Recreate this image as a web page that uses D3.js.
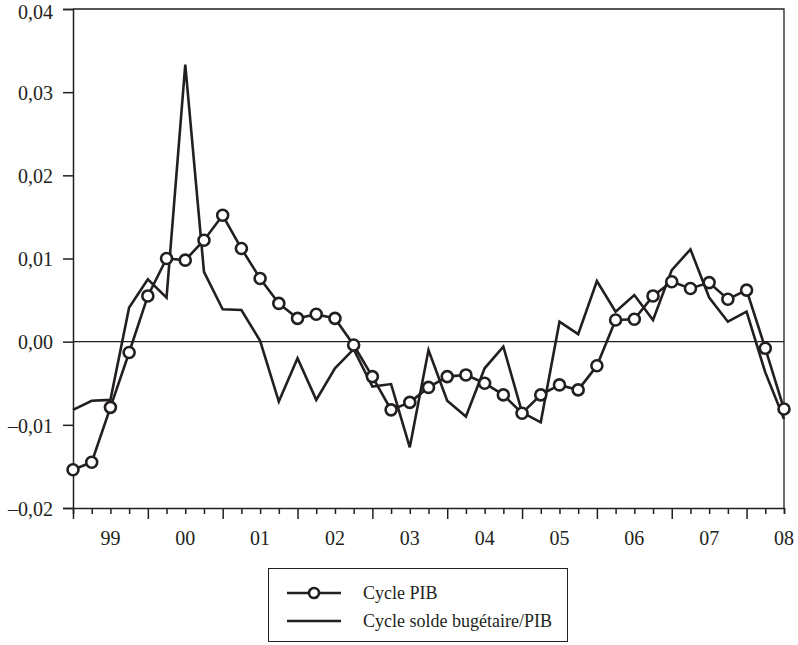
<!DOCTYPE html>
<html>
<head>
<meta charset="utf-8">
<script src="https://cdn.jsdelivr.net/npm/d3@7"></script>
<style>
  html, body { margin: 0; padding: 0; background: #fff; }
  svg text { font-family: "Liberation Serif", "Times New Roman", serif; fill: #231f20; }
</style>
</head>
<body>
<svg id="chart" width="798" height="645"></svg>
<script>
// ----- data (quarterly) -----
const yearLabels = ['99', '00', '01', '02', '03', '04', '05', '06', '07', '08'];

// cycle PIB (circles)
const cyclePIB = [
  -0.0154, -0.0145, -0.0079, -0.0013,
   0.0055,  0.0100,  0.0098,  0.0122,
   0.0152,  0.0112,  0.0076,  0.0046,
   0.0028,  0.0033,  0.0028, -0.0004,
  -0.0042, -0.0082, -0.0073, -0.0055,
  -0.0042, -0.0040, -0.0050, -0.0064,
  -0.0086, -0.0064, -0.0052, -0.0058,
  -0.0029,  0.0026,  0.0027,  0.0055,
   0.0072,  0.0064,  0.0071,  0.0051,
   0.0062, -0.0008, -0.0081
];

// cycle solde budgétaire / PIB (plain line)
const cycleSolde = [
  -0.0082, -0.0071, -0.0070,  0.0041,
   0.0075,  0.0053,  0.0333,  0.0084,
   0.0039,  0.0038,  0.0001, -0.0072,
  -0.0020, -0.0070, -0.0032, -0.0009,
  -0.0054, -0.0051, -0.0127, -0.0010,
  -0.0071, -0.0090, -0.0032, -0.0006,
  -0.0085, -0.0097,  0.0024,  0.0009,
   0.0073,  0.0036,  0.0056,  0.0026,
   0.0086,  0.0111,  0.0053,  0.0024,
   0.0036, -0.0037, -0.0093
];

const yTicks = [-0.02, -0.01, 0, 0.01, 0.02, 0.03, 0.04];

const legendItems = [
  { label: 'Cycle PIB', marker: true },
  { label: 'Cycle solde bugétaire/PIB', marker: false }
];

// ----- layout -----
const ink = '#231f20';
const plot = { left: 73, right: 784, top: 9, bottom: 508 };

const svg = d3.select('#chart');

const x = d3.scaleLinear()
  .domain([0, cyclePIB.length - 1])
  .range([plot.left, plot.right]);

const y = d3.scaleLinear()
  .domain([-0.02, 0.04])
  .range([plot.bottom, plot.top]);

// frame: top + right borders
svg.append('path')
  .attr('d', `M${plot.left},${plot.top}H${plot.right}V${plot.bottom}`)
  .attr('fill', 'none')
  .attr('stroke', ink)
  .attr('stroke-width', 1.3);

// y axis
const fmt = v => (v < 0 ? '\u2013' : '') + Math.abs(v).toFixed(2).replace('.', ',');
const yAxis = svg.append('g')
  .attr('transform', `translate(${plot.left},0)`)
  .call(d3.axisLeft(y).tickValues(yTicks).tickSize(10).tickPadding(10).tickFormat(fmt));
yAxis.select('.domain').attr('stroke', ink).attr('stroke-width', 1.5);
yAxis.selectAll('.tick line').attr('stroke', ink).attr('stroke-width', 1.5);
yAxis.selectAll('.tick text')
  .attr('font-size', 20)
  .attr('font-family', '"Liberation Serif", "Times New Roman", serif')
  .attr('fill', ink)
  .attr('dy', d => (d === 0.04 ? '0.45em' : '0.36em'));

// x axis: quarterly ticks, longer one each year
const quarters = d3.range(cyclePIB.length);
const xAxis = svg.append('g')
  .attr('transform', `translate(0,${plot.bottom})`)
  .call(d3.axisBottom(x).tickValues(quarters).tickSize(6).tickFormat(''));
xAxis.select('.domain').attr('stroke', ink).attr('stroke-width', 1.5);
xAxis.selectAll('.tick line')
  .attr('stroke', ink)
  .attr('stroke-width', 1.5)
  .attr('y2', d => (d % 4 === 0 ? 11 : 6));

// year labels sit between the yearly ticks
svg.append('g')
  .selectAll('text')
  .data(yearLabels)
  .join('text')
  .attr('x', (d, i) => x(2 + i * 4))
  .attr('y', plot.bottom + 37)
  .attr('text-anchor', 'middle')
  .attr('font-size', 20)
  .text(d => d);

// zero line
svg.append('line')
  .attr('x1', plot.left).attr('x2', plot.right)
  .attr('y1', y(0)).attr('y2', y(0))
  .attr('stroke', ink)
  .attr('stroke-width', 1.2);

// series
const line = d3.line().x((d, i) => x(i)).y(d => y(d));

svg.append('path')
  .datum(cycleSolde)
  .attr('d', line)
  .attr('fill', 'none')
  .attr('stroke', ink)
  .attr('stroke-width', 2.6)
  .attr('stroke-linejoin', 'miter');

svg.append('path')
  .datum(cyclePIB)
  .attr('d', line)
  .attr('fill', 'none')
  .attr('stroke', ink)
  .attr('stroke-width', 2.6);

svg.append('g')
  .selectAll('circle')
  .data(cyclePIB)
  .join('circle')
  .attr('cx', (d, i) => x(i))
  .attr('cy', d => y(d))
  .attr('r', 5.5)
  .attr('fill', '#fff')
  .attr('stroke', ink)
  .attr('stroke-width', 2.6);

// legend
const legend = svg.append('g');
legend.append('rect')
  .attr('x', 268.5).attr('y', 568.5)
  .attr('width', 299).attr('height', 73)
  .attr('fill', '#fff')
  .attr('stroke', ink)
  .attr('stroke-width', 1);

const rows = legend.selectAll('g.row')
  .data(legendItems)
  .join('g')
  .attr('class', 'row')
  .attr('transform', (d, i) => `translate(0,${593 + i * 28})`);

rows.append('line')
  .attr('x1', 287).attr('x2', 341)
  .attr('stroke', ink)
  .attr('stroke-width', 2.6);

rows.filter(d => d.marker)
  .append('circle')
  .attr('cx', 314).attr('r', 5)
  .attr('fill', '#fff')
  .attr('stroke', ink)
  .attr('stroke-width', 2.6);

rows.append('text')
  .attr('x', 363)
  .attr('y', 6)
  .attr('font-size', 18)
  .text(d => d.label);
</script>
</body>
</html>
